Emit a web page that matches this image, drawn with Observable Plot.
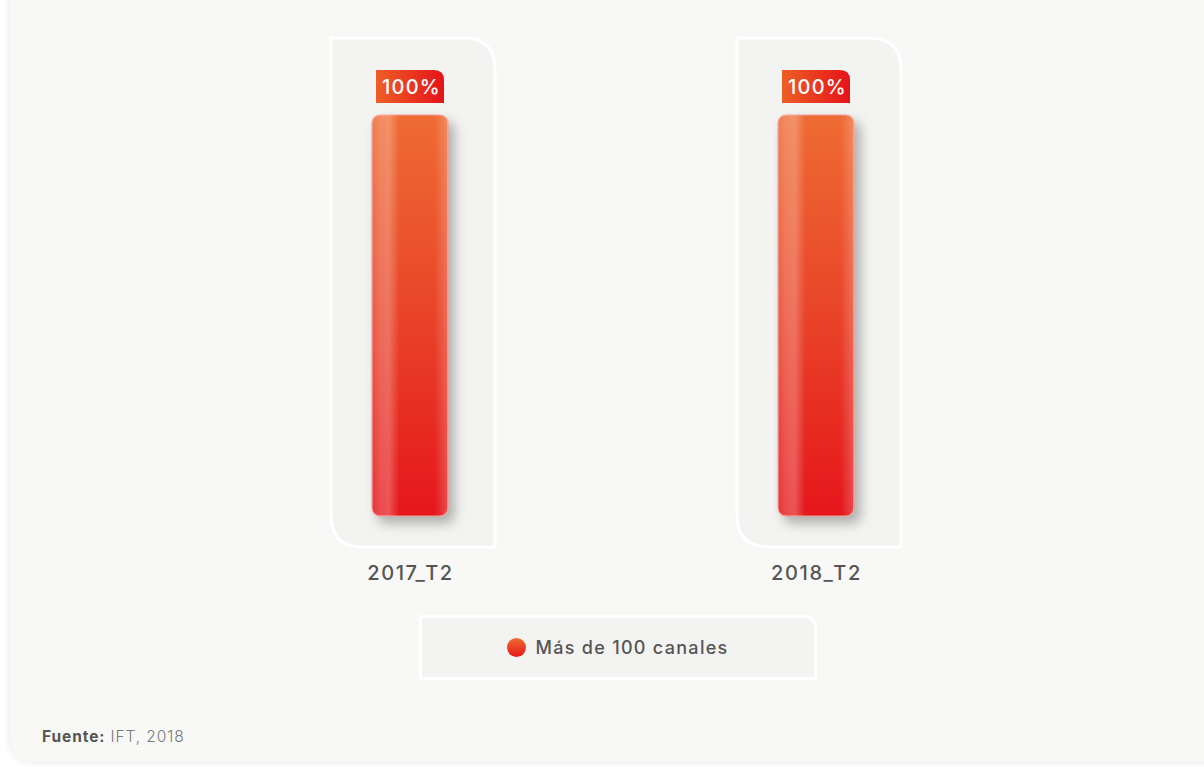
<!DOCTYPE html>
<html><head><meta charset="utf-8">
<script src="https://cdn.jsdelivr.net/npm/d3@7"></script>
<script src="https://cdn.jsdelivr.net/npm/@observablehq/plot@0.6"></script>
<style>
html,body{margin:0;padding:0;background:#fff;width:1204px;height:767px;overflow:hidden;font-family:Inter,"Open Sans",sans-serif;}
#card{position:absolute;left:10px;top:-30px;width:1240px;height:792px;background:#f8f8f6;border-radius:0 0 0 22px;box-shadow:0 0 9px rgba(0,0,0,0.10);}
#chart{position:absolute;left:0;top:0;}
#legend{position:absolute;left:419px;top:615px;width:392px;height:59px;background:#f3f3f1;border:3px solid #fff;border-top-right-radius:12px;display:flex;align-items:center;justify-content:center;font-size:18px;color:#555;font-weight:500;letter-spacing:1.3px;}
.dot{width:19px;height:19px;border-radius:50%;background:linear-gradient(#ef6a30,#e5191b);margin-right:9px;margin-left:0px;}
#source{position:absolute;left:42px;top:727px;font-size:15.5px;color:#7a7a7a;font-weight:300;letter-spacing:0.9px;}
#source b{color:#555;font-weight:700;}
.bars rect{filter:drop-shadow(6px 7px 6px rgba(0,0,0,0.28));}
.cats text{letter-spacing:1.6px;}
.vals text{letter-spacing:1.2px;}
</style></head>
<body>
<div id="card"></div>
<div id="chart"></div>
<div id="legend"></div>
<div id="source"></div>
<script>
const categories = ["2017_T2", "2018_T2"];
const values = [100, 100];
const valueLabels = ["100%", "100%"];
const seriesName = "Más de 100 canales";
const sourceLabel = "Fuente:";
const sourceText = " IFT, 2018";

const data = categories.map((c, i) => ({periodo: c, valor: values[i], etiqueta: valueLabels[i]}));

function bandInfo(scales) {
  const x = scales.x;
  const bw = typeof x.bandwidth === "function" ? x.bandwidth() : (scales.scales && scales.scales.x ? scales.scales.x.bandwidth : 76);
  return {x, bw};
}

function panels(index, scales) {
  const {x, bw} = bandInfo(scales);
  const y = scales.y;
  const g = d3.create("svg:g");
  for (const d of data) {
    const cx = x(d.periodo) + bw / 2 + 3;
    const x0 = cx - 82, x1 = cx + 82, y0 = y(100) - 77, y1 = y(0) + 31, r = 32;
    g.append("path")
      .attr("d", `M${x0},${y0}H${x1 - r}Q${x1},${y0} ${x1},${y0 + r}V${y1}H${x0 + r}Q${x0},${y1} ${x0},${y1 - r}Z`)
      .attr("fill", "#f3f3f1").attr("stroke", "#fff").attr("stroke-width", 3);
  }
  return g.node();
}

function labelBoxes(index, scales) {
  const {x, bw} = bandInfo(scales);
  const y = scales.y;
  const g = d3.create("svg:g");
  for (const d of data) {
    const cx = x(d.periodo) + bw / 2;
    const x0 = cx - 34, x1 = cx + 34, y0 = y(d.valor) - 45, y1 = y(d.valor) - 12, r = 10;
    g.append("path")
      .attr("d", `M${x0},${y0}H${x1 - r}Q${x1},${y0} ${x1},${y0 + r}V${y1}H${x0}Z`)
      .attr("fill", "url(#labelGrad)");
  }
  return g.node();
}

const plot = Plot.plot({
  width: 1204,
  height: 600,
  marginLeft: 40,
  marginRight: 19,
  marginTop: 115,
  marginBottom: 84,
  style: {background: "transparent", fontFamily: "Inter, 'Open Sans', sans-serif", overflow: "visible"},
  x: {domain: categories, paddingInner: 0.8133, paddingOuter: 0.8133, label: null},
  y: {domain: [0, 100], axis: null},
  marks: [
    panels,
    Plot.barY(data, {x: "periodo", y: "valor", fill: "url(#barGrad)", stroke: "#f4a096", strokeWidth: 1.2, rx: 8, className: "bars"}),
    Plot.barY(data, {x: "periodo", y: "valor", fill: "url(#sheenGrad)", rx: 8}),
    labelBoxes,
    Plot.text(data, {x: "periodo", y: "valor", text: "etiqueta", dy: -28, dx: 1, fill: "white", fontSize: 20, fontWeight: 500, className: "vals"}),
    Plot.axisX({tickSize: 0, tickPadding: 49, fontSize: 20, fontWeight: 500, color: "#555", label: null, className: "cats"})
  ]
});

const defs = d3.select(plot).insert("defs", ":first-child");
const bg = defs.append("linearGradient").attr("id", "barGrad").attr("x1", 0).attr("y1", 0).attr("x2", 0).attr("y2", 1);
bg.append("stop").attr("offset", "0%").attr("stop-color", "#ee6b33");
bg.append("stop").attr("offset", "45%").attr("stop-color", "#e9482a");
bg.append("stop").attr("offset", "100%").attr("stop-color", "#e5161b");
const sg = defs.append("linearGradient").attr("id", "sheenGrad").attr("x1", 0).attr("y1", 0).attr("x2", 1).attr("y2", 0);
[["0%", 0.12], ["10%", 0.22], ["22%", 0.26], ["36%", 0.0], ["82%", 0.0], ["100%", 0.22]].forEach(([o, a]) =>
  sg.append("stop").attr("offset", o).attr("stop-color", "#fff").attr("stop-opacity", a));
const lg = defs.append("linearGradient").attr("id", "labelGrad").attr("x1", 0).attr("y1", 0).attr("x2", 1).attr("y2", 0);
lg.append("stop").attr("offset", "0%").attr("stop-color", "#ee5f26");
lg.append("stop").attr("offset", "100%").attr("stop-color", "#e5131a");

document.getElementById("chart").appendChild(plot);

const legend = document.getElementById("legend");
legend.innerHTML = `<span class="dot"></span><span>${seriesName}</span>`;
document.getElementById("source").innerHTML = `<b>${sourceLabel}</b>${sourceText}`;
</script>
</body></html>
